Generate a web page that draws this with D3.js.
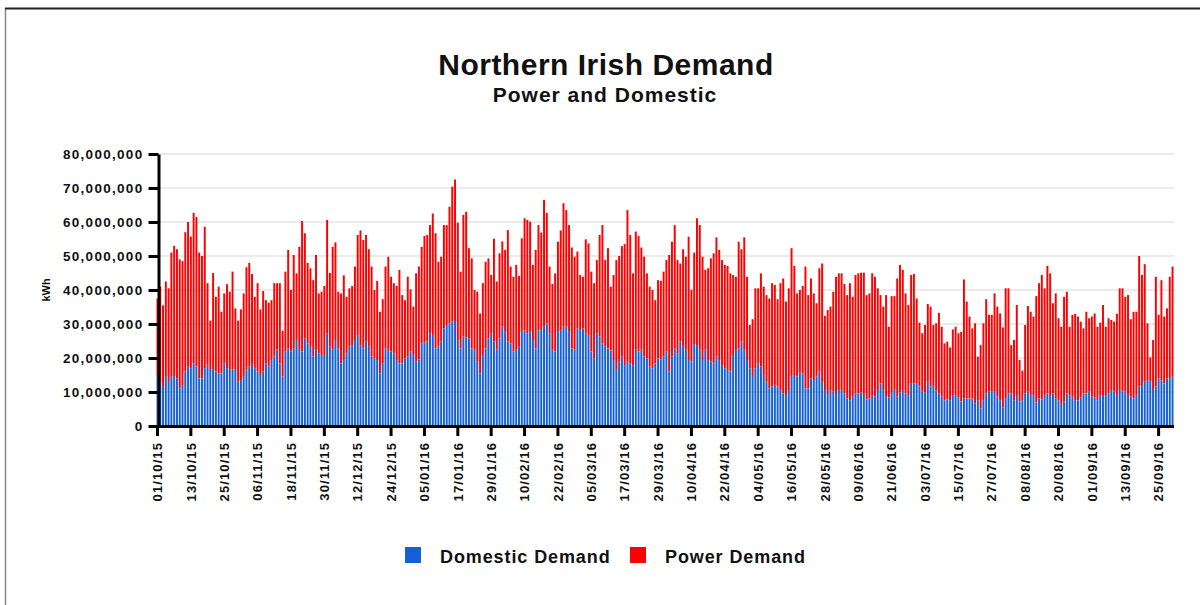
<!DOCTYPE html>
<html>
<head>
<meta charset="utf-8">
<script src="https://cdnjs.cloudflare.com/ajax/libs/d3/7.8.5/d3.min.js"></script>
<style>
	body { margin: 0; background: #fff; }
	svg text { font-family: "Liberation Sans", Arial, sans-serif; font-weight: bold; fill: #111; }
</style>
</head>
<body>
<div id="chart"></div>
<script>
// daily demand, millions of kWh, 01/10/15 .. 30/09/16
var domestic = [
	14.5,13,11.5,14.7,13,14.5,14.7,14,11,12,16,17.5,17,18.4,17.5,14,14,17,18,16.5,16.5,16,15.5,15.5,18.4,17,16.5,16.7,16.5,13,13.5,14.5,16.5,17.5,18,17,16,15,16,18.4,17.5,19.4,20.4,22.5,18.4,14.5,
	21.9,22.8,21.9,22.8,25.3,22.4,21.9,25.8,24.3,23.3,20.4,22.4,21.4,20.9,20.9,27.3,23.3,22.4,25.3,22.8,18.4,19.4,21.4,23.3,23.8,25.3,26.8,23.8,22.8,24.8,23.3,20.4,19.9,19.4,15.5,18.4,22.8,22.4,21.9,21.4,19.4,18.4,18.4,19.9,20.4,
	21.9,20.9,18.9,19.6,24.3,24.5,24.8,27.3,26.8,22.8,23.3,24.8,28.7,29.7,30.2,30.7,30.9,25.3,22.8,26.3,26,25.8,22.8,22.4,18.9,15.5,20.9,22.8,25.8,27.3,24.8,22.4,25.8,29.2,27.7,24.8,24.3,21.9,22.4,23.3,27.7,28.2,27.3,27.7,25.3,
	22.8,28.2,28.2,29.2,30.2,27.3,22.4,21.9,27.7,28,29.2,29.2,27.7,22.8,22.5,28.7,28.2,28.7,27.3,26.8,21.9,19.9,27.3,26.3,24.3,23.3,22.8,22.2,19.4,16.5,18.9,20.4,17.9,18.9,18.4,17.9,22.4,21.9,22.4,20.4,19.9,17.5,17,18.4,19.9,
	19.6,20.4,21.9,16,20.4,22.8,21.4,24.8,23.3,22.4,19.4,18.9,24.1,23.8,22.4,19.4,22.4,19.4,18.9,18.4,20.4,19.4,17.9,17,16.5,16,20.9,22.4,22.8,24.8,22.4,19.4,17,15,17,18.4,17.5,15,13,11.1,11.6,12.1,11.6,10.6,9.6,
	9.1,10.6,15,15,14.5,15.7,15.5,11.1,11.1,14,13.5,14.5,16,13,10.6,9.1,10.6,10.1,9.1,10.6,10.6,9.6,8.1,7.6,8.6,9.6,9.6,9.8,9.4,7.8,8.1,9.1,8.6,10.6,12.5,10.6,8.8,8.4,9.8,10.6,8.6,9.8,10.6,9.6,
	9.1,12.4,12.5,12.4,11.6,10.1,9.8,13,11.6,11.8,10.4,9.6,8.6,7.5,7.8,7.6,9.1,9.1,8.4,7.2,8.1,8.1,8.1,8.1,6.7,7.6,5.2,7.6,9.6,10.1,10.1,10.3,8.6,7.6,5.5,8.1,9.6,9.6,7.6,9.1,7.2,7.6,9.6,10.1,9.1,9.1,
	6.9,8.1,7.8,9.1,9.6,8.8,9.6,8.1,7.6,6.2,7.2,9.6,9.1,8.6,7.6,7.5,8.4,9.6,9.6,10.1,8.6,8.4,7.6,9.1,8.8,9.1,9.6,10.6,10.1,9.1,10.6,10.1,10.1,9.1,8.6,8.1,9.1,11.6,11.8,13,13.5,13,10.6,11.6,14,13.5,12.5,14,14,14.5
]

var power = [
	23,28,24,27.8,27.5,36.5,38.3,38,38,36.5,41,42.5,38.7,44.3,44,37,36,41.6,24,14.5,28.5,22,25.5,18.1,20.6,24.7,23,28.7,18.1,18,20.8,24.5,30.2,30.5,26.7,21,26,19.3,23.7,18.6,18.8,17.6,21.6,19.5,23.6,13.5,
	23.5,29,18.1,27.5,19.6,30.3,38.4,30.9,23.7,23.1,22.5,27.9,17.6,18.6,20.3,33.3,21.7,30.3,28.7,16.7,20.6,24.9,16.6,17.2,17.4,21.6,29.4,33.7,31.9,31.4,28.7,26.5,20.1,23.3,18.1,18.9,24.1,27.4,22,20.6,21.8,27.5,20.1,17.1,23.5,
	18.3,14.2,26,27.3,28.4,31.4,31.4,31.8,35.7,33.9,25,25,30.4,29.4,34.3,39.7,41.6,34.5,22.6,35.8,37,26.5,26.5,17.6,20.6,17.6,21.1,25.5,23.5,17.1,30.3,20.1,25,25.1,24.1,32.8,22.6,22,25,20.8,27.5,32.9,33.3,32.4,22.1,
	29,30.9,28.7,37.3,32.5,19.6,19.4,23,26.5,29.5,36.3,34.3,31.4,29.7,27.3,22.6,16.2,15.2,27.6,26.9,23.5,22.1,21.5,29.9,34.8,25.5,29.5,18.8,25,32.3,31.1,32.5,35.6,44.6,37.8,27,34.8,34,30.1,29.4,25,23.5,23,18.6,23,
	23.1,25,26.9,34.3,33.8,36.3,27.4,23,28.7,27.4,36.3,21.1,26.9,37.3,36.7,30.4,23.5,27,30.4,32.4,35.1,32.4,30.9,30.4,30.6,28.9,23.5,21.5,31.4,27.2,33.1,24.5,12.7,16.4,23.5,22.1,27.4,26,25.5,26.4,30.4,29.4,25.7,31.4,33.8,
	27.5,29.9,37.3,32.1,24.5,24.3,25.7,35.8,27.4,29.4,25.5,21.6,30.4,34.8,21.8,25,24.5,29.4,34.8,34.3,34.3,32.2,30.4,34.4,29.4,34.8,35.3,35.3,35.7,30.7,30.9,35.8,35.3,29.9,26,24.5,29.7,20.8,28.4,27.6,34.8,37.6,35.3,29.4,
	26.5,32,32.2,25.1,18.8,17.2,19.9,22.9,23.5,17.9,19.8,23.7,20.6,16.8,17,15.5,19.3,20.1,18.9,20.5,35,28.5,24.1,20.6,23.5,12.8,18.6,22.6,27.7,22.6,22.6,28.7,26.5,25.5,23.5,32.4,30.9,14.2,17.7,26.5,12.2,8.7,20.1,25.2,24.5,23.1,
	31.3,33.9,36.6,31.4,37.5,36.1,26.5,30.9,24.1,23,30.8,29.9,20.1,24.1,25.4,24.7,22.3,19.1,24,21.6,23.6,24.7,21.6,21.3,26.8,20.1,22.1,20.6,20.6,23.9,29.9,30.4,27.9,29.4,22.8,25.5,24.5,38.4,32.6,34.6,16.7,7.2,14.7,32.3,18.7,29.4,19.7,20.6,29.9,32.4
]

var fmtDay = d3.timeFormat("%d/%m/%y")
var days = d3.timeDay.range(new Date(2015, 9, 1), new Date(2016, 9, 1)).map(fmtDay)

var tickLabels = ["01/10/15","13/10/15","25/10/15","06/11/15","18/11/15","30/11/15","12/12/15","24/12/15",
	"05/01/16","17/01/16","29/01/16","10/02/16","22/02/16","05/03/16","17/03/16","29/03/16","10/04/16",
	"22/04/16","04/05/16","16/05/16","28/05/16","09/06/16","21/06/16","03/07/16","15/07/16","27/07/16",
	"08/08/16","20/08/16","01/09/16","13/09/16","25/09/16"]

var yTicks = [0,10,20,30,40,50,60,70,80]

var seriesNames = ["Domestic Demand", "Power Demand"]
var seriesColors = ["#1560d4", "#ff0000"]

var width = 1200, height = 605

var svg = d3.select("#chart")
	.append("svg")
	.attr("width", width)
	.attr("height", height)

// frame
svg.append("line").attr("x1", 5.5).attr("x2", 5.5).attr("y1", 8).attr("y2", height)
	.attr("stroke", "#888").attr("stroke-width", 1.5)
svg.append("line").attr("x1", 5).attr("x2", width).attr("y1", 8.5).attr("y2", 8.5)
	.attr("stroke", "#222").attr("stroke-width", 2)

svg.append("text").attr("x", 606).attr("y", 75).attr("text-anchor", "middle")
	.style("font-size", "30px").style("letter-spacing", "0.5px").text("Northern Irish Demand")
svg.append("text").attr("x", 605).attr("y", 102).attr("text-anchor", "middle")
	.style("font-size", "21px").style("letter-spacing", "1px").text("Power and Domestic")

var x = d3.scaleBand().domain(days).range([156.5, 1173.5]).paddingInner(0.3)
var y = d3.scaleLinear().domain([0, 80]).range([426, 154])

// gridlines
svg.append("g").selectAll("line")
	.data(yTicks.slice(1))
	.enter().append("line")
	.attr("x1", 160).attr("x2", 1174)
	.attr("y1", function(d) { return y(d) }).attr("y2", function(d) { return y(d) })
	.attr("stroke", "#e4e4e4").attr("stroke-width", 1.5)

var rows = days.map(function(d, i) {
	return { day: d, domestic: domestic[i], power: power[i] }
})
var stacked = d3.stack().keys(["domestic", "power"])(rows)

svg.append("g").selectAll("g")
	.data(stacked)
	.enter().append("g")
	.attr("fill", function(d, i) { return seriesColors[i] })
	.selectAll("rect")
	.data(function(d) { return d })
	.enter().append("rect")
	.attr("x", function(d) { return x(d.data.day) })
	.attr("width", x.bandwidth())
	.attr("y", function(d) { return y(d[1]) })
	.attr("height", function(d) { return y(d[0]) - y(d[1]) })

var commas = d3.format(",")

var yAxis = svg.append("g")
	.attr("transform", "translate(158.5,0)")
	.call(d3.axisLeft(y).tickValues(yTicks).tickSize(10).tickSizeOuter(0).tickPadding(5)
		.tickFormat(function(d) { return commas(d * 1000000) }))
yAxis.selectAll("text").style("font-size", "13.5px").style("letter-spacing", "1.3px").attr("fill", "#222")

var xAxis = svg.append("g")
	.attr("transform", "translate(0,426)")
	.call(d3.axisBottom(x).tickValues(tickLabels).tickSize(10).tickSizeOuter(0))
xAxis.selectAll("text")
	.attr("transform", "rotate(-90)")
	.attr("x", -16).attr("y", 0).attr("dy", "0.36em")
	.attr("text-anchor", "end")
	.style("font-size", "13px").style("letter-spacing", "1.1px").attr("fill", "#222")

svg.selectAll(".domain").attr("stroke", "#000").attr("stroke-width", 3)
svg.selectAll(".tick line").attr("stroke", "#000").attr("stroke-width", 3)

svg.append("text")
	.attr("transform", "translate(50,290) rotate(-90)")
	.attr("text-anchor", "middle")
	.style("font-size", "11px")
	.text("kWh")

// legend
var legendX = [405, 630]
var legend = svg.append("g").selectAll("g")
	.data(seriesNames)
	.enter().append("g")
	.attr("transform", function(d, i) { return "translate(" + legendX[i] + ",547)" })
legend.append("rect").attr("width", 16).attr("height", 16)
	.attr("fill", function(d, i) { return seriesColors[i] })
legend.append("text").attr("x", 35).attr("y", 16)
	.style("font-size", "18px").style("letter-spacing", "0.9px")
	.text(function(d) { return d })
</script>
</body>
</html>
